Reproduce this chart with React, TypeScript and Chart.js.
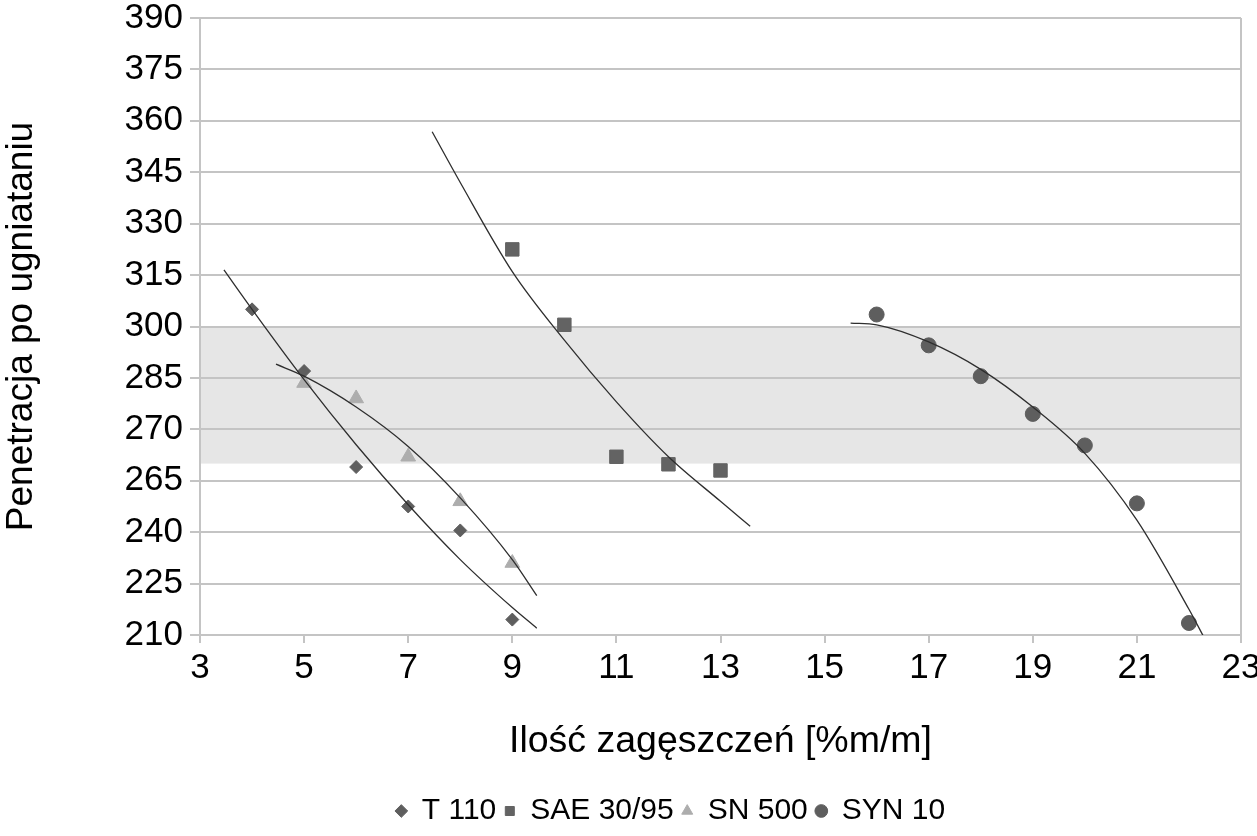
import React, { useEffect, useRef } from 'react';
import { Chart, registerables } from 'chart.js';

Chart.register(...registerables);

// ---- data ----
const t110X = [4, 5, 6, 7, 8, 9];
const t110Y = [305, 287, 259, 247.5, 240.5, 214.5];

const saeX = [9, 10, 11, 12, 13];
const saeY = [322.5, 300.5, 262, 259.8, 258];

const sn500X = [5, 6, 7, 8, 9];
const sn500Y = [283.5, 279, 262, 249, 231];

const synX = [16, 17, 18, 19, 20, 21, 22];
const synY = [303.5, 294.5, 285.5, 274.5, 265.3, 248.4, 213.5];

// trend lines
const t110TrendX = [3.46, 4, 5, 6, 7, 8, 9, 9.47];
const t110TrendY = [316.5, 305, 284.5, 265.5, 248, 232, 218, 212];

const sn500TrendX = [4.46, 5, 6, 7, 8, 9, 9.47];
const sn500TrendY = [289, 285.5, 276.5, 265, 250, 232, 221.5];

const saeTrendX = [7.46, 8, 9, 10, 11, 12, 13, 13.57];
const saeTrendY = [356.8, 342, 316, 296, 278, 262, 249, 241.7];

const synTrendX = [15.5, 16, 17, 18, 19, 20, 21, 22, 22.3];
const synTrendY = [301, 300.5, 295.5, 287.5, 276.5, 263, 243.5, 217.5, 209];

// shaded band
const bandMin = 260;
const bandMax = 300;

// axes
const xMin = 3;
const xMax = 23;
const xStep = 2;
const yMin = 210;
const yMax = 390;
const yStep = 15;
const yTickLabels = ['210', '225', '240', '265', '270', '285', '300', '315', '330', '345', '360', '375', '390'];

const seriesNames = ['T 110', 'SAE 30/95', 'SN 500', 'SYN 10'];

const FONT = "'Liberation Sans', Arial, sans-serif";

const zip = (xs: number[], ys: number[]) => xs.map((x, i) => ({ x, y: ys[i] }));

const bandPlugin = {
  id: 'bandPlugin',
  beforeDraw(chart: any) {
    const { ctx, chartArea, scales } = chart;
    const y = scales.y;
    const top = y.getPixelForValue(bandMax);
    const bottom = y.getPixelForValue(bandMin);
    ctx.save();
    ctx.fillStyle = '#e6e6e6';
    ctx.fillRect(chartArea.left, top, chartArea.right - chartArea.left, bottom - top);
    ctx.restore();
  },
  beforeDatasetsDraw(chart: any) {
    const { ctx, chartArea } = chart;
    ctx.save();
    ctx.strokeStyle = '#c4c4c4';
    ctx.lineWidth = 2;
    ctx.beginPath();
    ctx.moveTo(chartArea.right, chartArea.top);
    ctx.lineTo(chartArea.right, chartArea.bottom);
    ctx.stroke();
    ctx.restore();
  },
};

const legendShift = {
  id: 'legendShift',
  afterLayout(chart: any) {
    const lg = chart.legend;
    if (lg) {
      lg.left += 50;
      lg.right += 50;
    }
  },
};

export default function App() {
  const ref = useRef<HTMLCanvasElement | null>(null);

  useEffect(() => {
    document.body.style.margin = '0';
    if (!ref.current) return;
    const trend = (xs: number[], ys: number[]) => ({
      label: '__trend',
      data: zip(xs, ys),
      showLine: true,
      borderColor: '#2e2e2e',
      borderWidth: 1.3,
      pointRadius: 0,
      pointHoverRadius: 0,
      cubicInterpolationMode: 'monotone' as const,
      fill: false,
      order: 0,
    });
    const chart = new Chart(ref.current, {
      type: 'scatter',
      data: {
        datasets: [
          {
            label: seriesNames[0],
            data: zip(t110X, t110Y),
            pointStyle: 'rectRot',
            pointRadius: 6.5,
            backgroundColor: '#5e5e5e',
            borderColor: '#5e5e5e',
            borderWidth: 1,
            order: 1,
          },
          {
            label: seriesNames[1],
            data: zip(saeX, saeY),
            pointStyle: 'rect',
            pointRadius: 9.5,
            backgroundColor: '#636363',
            borderColor: '#636363',
            borderWidth: 1,
            order: 1,
          },
          {
            label: seriesNames[2],
            data: zip(sn500X, sn500Y),
            pointStyle: 'triangle',
            pointRadius: 8.5,
            backgroundColor: '#adadad',
            borderColor: '#adadad',
            borderWidth: 1,
            order: 1,
          },
          {
            label: seriesNames[3],
            data: zip(synX, synY),
            pointStyle: 'circle',
            pointRadius: 7.5,
            backgroundColor: '#5e5e5e',
            borderColor: '#5e5e5e',
            borderWidth: 1,
            order: 1,
          },
          trend(t110TrendX, t110TrendY),
          trend(sn500TrendX, sn500TrendY),
          trend(saeTrendX, saeTrendY),
          trend(synTrendX, synTrendY),
        ],
      },
      options: {
        animation: false,
        responsive: false,
        maintainAspectRatio: false,
        layout: { padding: { top: 18, right: 16, left: 0, bottom: 0 } },
        plugins: {
          tooltip: { enabled: false },
          legend: {
            position: 'bottom',
            labels: {
              usePointStyle: true,
              boxWidth: 11,
              boxHeight: 9,
              padding: 8,
              color: '#000',
              font: { family: FONT, size: 30 },
              filter: (item: any) => item.text !== '__trend',
            },
          },
        },
        scales: {
          x: {
            type: 'linear',
            min: xMin,
            max: xMax,
            ticks: {
              stepSize: xStep,
              color: '#000',
              font: { family: FONT, size: 35 },
              padding: 4,
              maxRotation: 0,
            },
            grid: {
              drawOnChartArea: false,
              drawTicks: true,
              tickLength: 8,
              color: '#c4c4c4',
              lineWidth: 2,
            },
            border: { color: '#c4c4c4', width: 2 },
            title: {
              display: true,
              text: 'Ilość zagęszczeń [%m/m]',
              color: '#000',
              font: { family: FONT, size: 37.5 },
              padding: { top: 4, bottom: 24 },
            },
            afterFit: (s: any) => {
              s.height = 153;
              s.paddingLeft = 0;
              s.paddingRight = 0;
            },
          },
          y: {
            type: 'linear',
            min: yMin,
            max: yMax,
            ticks: {
              stepSize: yStep,
              color: '#000',
              font: { family: FONT, size: 35 },
              padding: 7,
              callback: (_v: any, i: number) => yTickLabels[i],
            },
            grid: {
              color: '#c4c4c4',
              lineWidth: 2,
              tickLength: 10,
            },
            border: { color: '#c4c4c4', width: 2 },
            title: {
              display: true,
              text: 'Penetracja po ugniataniu',
              color: '#000',
              font: { family: FONT, size: 37 },
              padding: { top: 0, bottom: 0 },
            },
            afterFit: (s: any) => {
              s.width = 200;
              s.paddingTop = 0;
              s.paddingBottom = 0;
            },
          },
        },
      },
      plugins: [bandPlugin, legendShift],
    });
    return () => chart.destroy();
  }, []);

  return (
    <div style={{ width: 1257, height: 836 }}>
      <canvas ref={ref} width={1257} height={836} style={{ display: 'block', width: 1257, height: 836 }} />
    </div>
  );
}
